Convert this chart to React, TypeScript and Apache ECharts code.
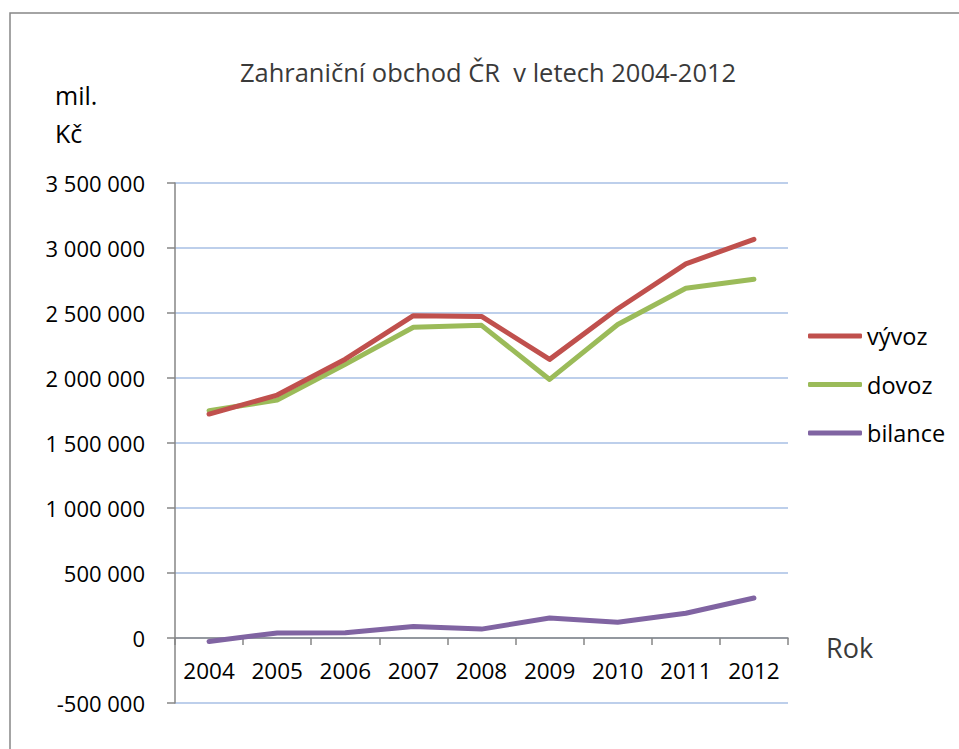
import React, { useEffect, useRef } from "react";
import * as echarts from "echarts";

const years = ["2004", "2005", "2006", "2007", "2008", "2009", "2010", "2011", "2012"];
const vyvoz = [1722657, 1868586, 2144573, 2479309, 2473402, 2143238, 2532722, 2878000, 3067000];
const dovoz = [1749057, 1829864, 2104866, 2390090, 2405052, 1989045, 2410998, 2690000, 2759000];
const bilance = [-26400, 38722, 39707, 89219, 68350, 154193, 121724, 190000, 308000];
const seriesNames = ["vývoz", "dovoz", "bilance"];
const seriesColors = ["#c0504d", "#9bbb59", "#8064a2"];

const FONT = "'Open Sans', 'Noto Sans', sans-serif";

function fmt(v: number): string {
  const s = Math.abs(v).toString().replace(/\B(?=(\d{3})+(?!\d))/g, " ");
  return (v < 0 ? "-" : "") + s;
}

export default function App() {
  const ref = useRef<HTMLDivElement>(null);
  useEffect(() => {
    if (!ref.current) return;
    const chart = echarts.init(ref.current, null, { renderer: "svg" });
    const data = [vyvoz, dovoz, bilance];
    chart.setOption({
      animation: false,
      backgroundColor: "#ffffff",
      textStyle: { fontFamily: FONT },
      grid: { left: 175, right: 171, top: 183, bottom: 46, containLabel: false },
      legend: {
        orient: "vertical",
        left: 808,
        top: 324,
        padding: 0,
        itemWidth: 54,
        itemHeight: 5,
        itemGap: 24.5,
        icon: "roundRect",
        textStyle: { fontSize: 23.5, lineHeight: 24, color: "#000", fontFamily: FONT },
        data: seriesNames,
      },
      xAxis: {
        type: "category",
        data: years,
        boundaryGap: true,
        position: "bottom",
        offset: -65,
        axisLine: { show: true, onZero: false, lineStyle: { color: "#868686", width: 1.5 } },
        axisTick: { show: true, interval: 0, length: 7, inside: false, lineStyle: { color: "#868686", width: 1.5 } },
        axisLabel: { interval: 0, hideOverlap: false, fontSize: 22.5, color: "#000", margin: 21, fontFamily: FONT },
        splitLine: { show: false },
      },
      yAxis: {
        type: "value",
        min: -500000,
        max: 3500000,
        interval: 500000,
        axisLine: { show: true, onZero: false, lineStyle: { color: "#868686", width: 1.5 } },
        axisTick: { show: true, length: 8, lineStyle: { color: "#868686", width: 1.5 } },
        axisLabel: { fontSize: 22, color: "#000", margin: 30, formatter: (v: number) => fmt(v), fontFamily: FONT },
        splitLine: { show: true, lineStyle: { color: "#a7bfe4", width: 1.5 } },
      },
      series: data.map((d, i) => ({
        name: seriesNames[i],
        type: "line",
        data: d,
        color: seriesColors[i],
        symbol: "none",
        showSymbol: false,
        lineStyle: { width: 5, color: seriesColors[i], cap: "round", join: "round" },
        z: 3 - i,
      })),
      graphic: [
        {
          type: "rect",
          shape: { x: 10, y: 13, width: 1200, height: 1000 },
          style: { fill: "none", stroke: "#878787", lineWidth: 1.5 },
          silent: true,
        },
        {
          type: "text",
          x: 488,
          y: 72,
          style: {
            text: "Zahraniční obchod ČR  v letech 2004-2012",
            fontSize: 25.5,
            fontFamily: FONT,
            fill: "#3a3a3a",
            align: "center",
            verticalAlign: "middle",
          },
        },
        {
          type: "text",
          x: 55,
          y: 95,
          style: { text: "mil.", fontSize: 25, fontFamily: FONT, fill: "#000", align: "left", verticalAlign: "middle" },
        },
        {
          type: "text",
          x: 55,
          y: 133,
          style: { text: "Kč", fontSize: 25, fontFamily: FONT, fill: "#000", align: "left", verticalAlign: "middle" },
        },
        {
          type: "text",
          x: 826,
          y: 647,
          style: { text: "Rok", fontSize: 27, fontFamily: FONT, fill: "#3a3a3a", align: "left", verticalAlign: "middle" },
        },
      ],
    });
    return () => chart.dispose();
  }, []);
  return (
    <div
      ref={ref}
      style={{ position: "fixed", left: 0, top: 0, width: 959, height: 749, background: "#fff" }}
    />
  );
}
